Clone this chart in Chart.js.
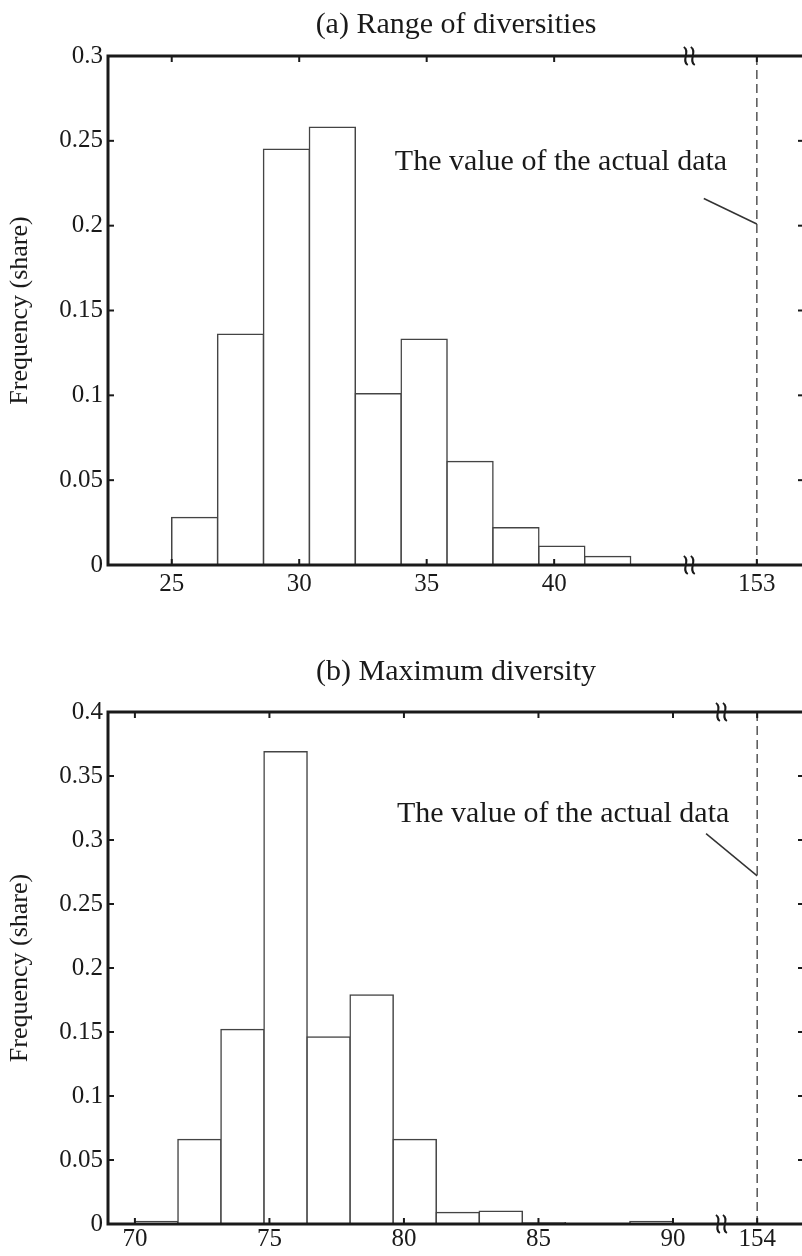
<!DOCTYPE html>
<html>
<head>
<meta charset="utf-8">
<script src="https://cdn.jsdelivr.net/npm/chart.js@4.4.1/dist/chart.umd.min.js"></script>
<style>
  html, body { margin: 0; padding: 0; background: #fff; overflow: hidden; }
  #wrap { position: relative; width: 802px; height: 1256px; overflow: hidden; }
  .box { position: absolute; left: 0; width: 812px; height: 628px; }
  #boxA { top: 0; }
  #boxB { top: 628px; }
</style>
</head>
<body>
<div id="wrap">
  <div class="box" id="boxA"><canvas id="chartA"></canvas></div>
  <div class="box" id="boxB"><canvas id="chartB"></canvas></div>
</div>
<script>
// (a) Range of diversities
const binStartsA = [25, 26.8, 28.6, 30.4, 32.2, 34.0, 35.8, 37.6, 39.4, 41.2];
const binWidthA = 1.8;
const freqA = [0.028, 0.136, 0.245, 0.258, 0.101, 0.133, 0.061, 0.022, 0.011, 0.005];
const xTicksA = [25, 30, 35, 40];
const yTicksA = [0, 0.05, 0.1, 0.15, 0.2, 0.25, 0.3];
const actualA = 153;

// (b) Maximum diversity
const binStartsB = [70, 71.6, 73.2, 74.8, 76.4, 78.0, 79.6, 81.2, 82.8, 84.4, 88.4];
const binWidthB = 1.6;
const freqB = [0.002, 0.066, 0.152, 0.369, 0.146, 0.179, 0.066, 0.009, 0.010, 0.001, 0.002];
const xTicksB = [70, 75, 80, 85, 90];
const yTicksB = [0, 0.05, 0.1, 0.15, 0.2, 0.25, 0.3, 0.35, 0.4];
const actualB = 154;

const noteText = 'The value of the actual data';
const serif = "'Liberation Serif', 'Times New Roman', serif";
const ink = '#1a1a1a';

// layout of each panel (broken x axis: the actual value sits past the break)
const panelA = {
  title: '(a) Range of diversities', top: 56, titleY: 25, bottom: 565, xPad: 4,
  xMin: 22.5, xMax: 49.8, yMax: 0.3, breakAt: 45.3, actualAt: 47.95,
  note: { x: 33.75, y: 0.2375 }, leader: [[45.87, 0.216], [47.95, 0.201]]
};
const panelB = {
  title: '(b) Maximum diversity', top: 84, titleY: 44, bottom: 596, xPad: 0,
  xMin: 69, xMax: 94.87, yMax: 0.4, breakAt: 91.8, actualAt: 93.13,
  note: { x: 79.74, y: 0.320 }, leader: [[91.23, 0.305], [93.13, 0.272]]
};

const extras = {
  id: 'extras',
  afterDatasetsDraw(chart, args, o) {
    const { ctx, chartArea: a, scales: { x, y } } = chart;
    const seg = (x1, y1, x2, y2) => { ctx.beginPath(); ctx.moveTo(x1, y1); ctx.lineTo(x2, y2); ctx.stroke(); };
    ctx.save();

    // dashed line at the actual value
    const ax = x.getPixelForValue(o.actualAt);
    ctx.strokeStyle = '#555';
    ctx.lineWidth = 1.5;
    ctx.setLineDash([9, 5]);
    seg(ax, a.top, ax, a.bottom);
    ctx.setLineDash([]);

    // inward ticks on all four sides
    ctx.strokeStyle = ink;
    ctx.lineWidth = 2;
    x.ticks.forEach(t => {
      const px = x.getPixelForValue(t.value);
      seg(px, a.bottom, px, a.bottom - 6);
      seg(px, a.top, px, a.top + 6);
    });
    y.ticks.forEach(t => {
      const py = y.getPixelForValue(t.value);
      seg(a.left, py, a.left + 6, py);
      seg(a.right, py, a.right - 6, py);
    });

    // frame
    ctx.lineWidth = 3;
    ctx.strokeRect(a.left, a.top, a.right - a.left, a.bottom - a.top);

    // axis break marks
    const bx = x.getPixelForValue(o.breakAt);
    ctx.lineWidth = 2;
    [a.top, a.bottom].forEach(by => {
      [-3.5, 3.5].forEach(dx => {
        const cx = bx + dx;
        ctx.beginPath();
        ctx.moveTo(cx - 2, by - 9);
        ctx.bezierCurveTo(cx + 5, by - 5, cx - 5, by + 5, cx + 2, by + 9);
        ctx.stroke();
      });
    });

    // leader line and note
    ctx.strokeStyle = '#333';
    ctx.lineWidth = 1.5;
    seg(x.getPixelForValue(o.leader[0][0]), y.getPixelForValue(o.leader[0][1]),
        x.getPixelForValue(o.leader[1][0]), y.getPixelForValue(o.leader[1][1]));
    ctx.fillStyle = ink;
    ctx.font = '30px ' + serif;
    ctx.textAlign = 'left';
    ctx.textBaseline = 'middle';
    ctx.fillText(noteText, x.getPixelForValue(o.note.x), y.getPixelForValue(o.note.y));

    // panel title, centred over the plot area
    ctx.textAlign = 'center';
    ctx.fillText(o.title, (a.left + a.right) / 2, o.titleY);
    ctx.restore();
  }
};

function makeChart(id, p, starts, width, freq, xTicks, yTicks, actual) {
  const points = starts.map((s, i) => ({ x: s + width / 2, y: freq[i] }));
  return new Chart(document.getElementById(id), {
    type: 'bar',
    data: {
      datasets: [{
        data: points,
        backgroundColor: '#fff',
        borderColor: '#444',
        borderWidth: 1.5,
        inflateAmount: 0.75,
        barPercentage: 1,
        categoryPercentage: 1
      }]
    },
    options: {
      responsive: true,
      maintainAspectRatio: false,
      animation: false,
      layout: { padding: { left: 0, right: 8, top: p.top, bottom: 0 } },
      plugins: {
        legend: { display: false },
        tooltip: { enabled: false },
        title: { display: false },
        extras: p
      },
      scales: {
        x: {
          type: 'linear',
          offset: false,
          min: p.xMin,
          max: p.xMax,
          grid: { display: false, drawTicks: false, offset: false },
          border: { display: false },
          afterBuildTicks: s => { s.ticks = [...xTicks, p.actualAt].map(v => ({ value: v })); },
          afterFit: s => { s.height = 628 - p.bottom; },
          ticks: {
            color: ink,
            padding: p.xPad,
            maxRotation: 0,
            autoSkip: false,
            font: { family: serif, size: 25 },
            callback: v => (v === p.actualAt ? String(actual) : String(v))
          }
        },
        y: {
          min: 0,
          max: p.yMax,
          grid: { display: false, drawTicks: false },
          border: { display: false },
          afterBuildTicks: s => { s.ticks = yTicks.map(v => ({ value: v })); },
          afterFit: s => { s.width = 108; },
          title: {
            display: true,
            text: 'Frequency (share)',
            color: ink,
            font: { family: serif, size: 26 },
            padding: { top: 5, bottom: 0 }
          },
          ticks: {
            color: ink,
            padding: 5,
            font: { family: serif, size: 25 },
            callback: v => String(v)
          }
        }
      }
    },
    plugins: [extras]
  });
}

makeChart('chartA', panelA, binStartsA, binWidthA, freqA, xTicksA, yTicksA, actualA);
makeChart('chartB', panelB, binStartsB, binWidthB, freqB, xTicksB, yTicksB, actualB);
</script>
</body>
</html>
